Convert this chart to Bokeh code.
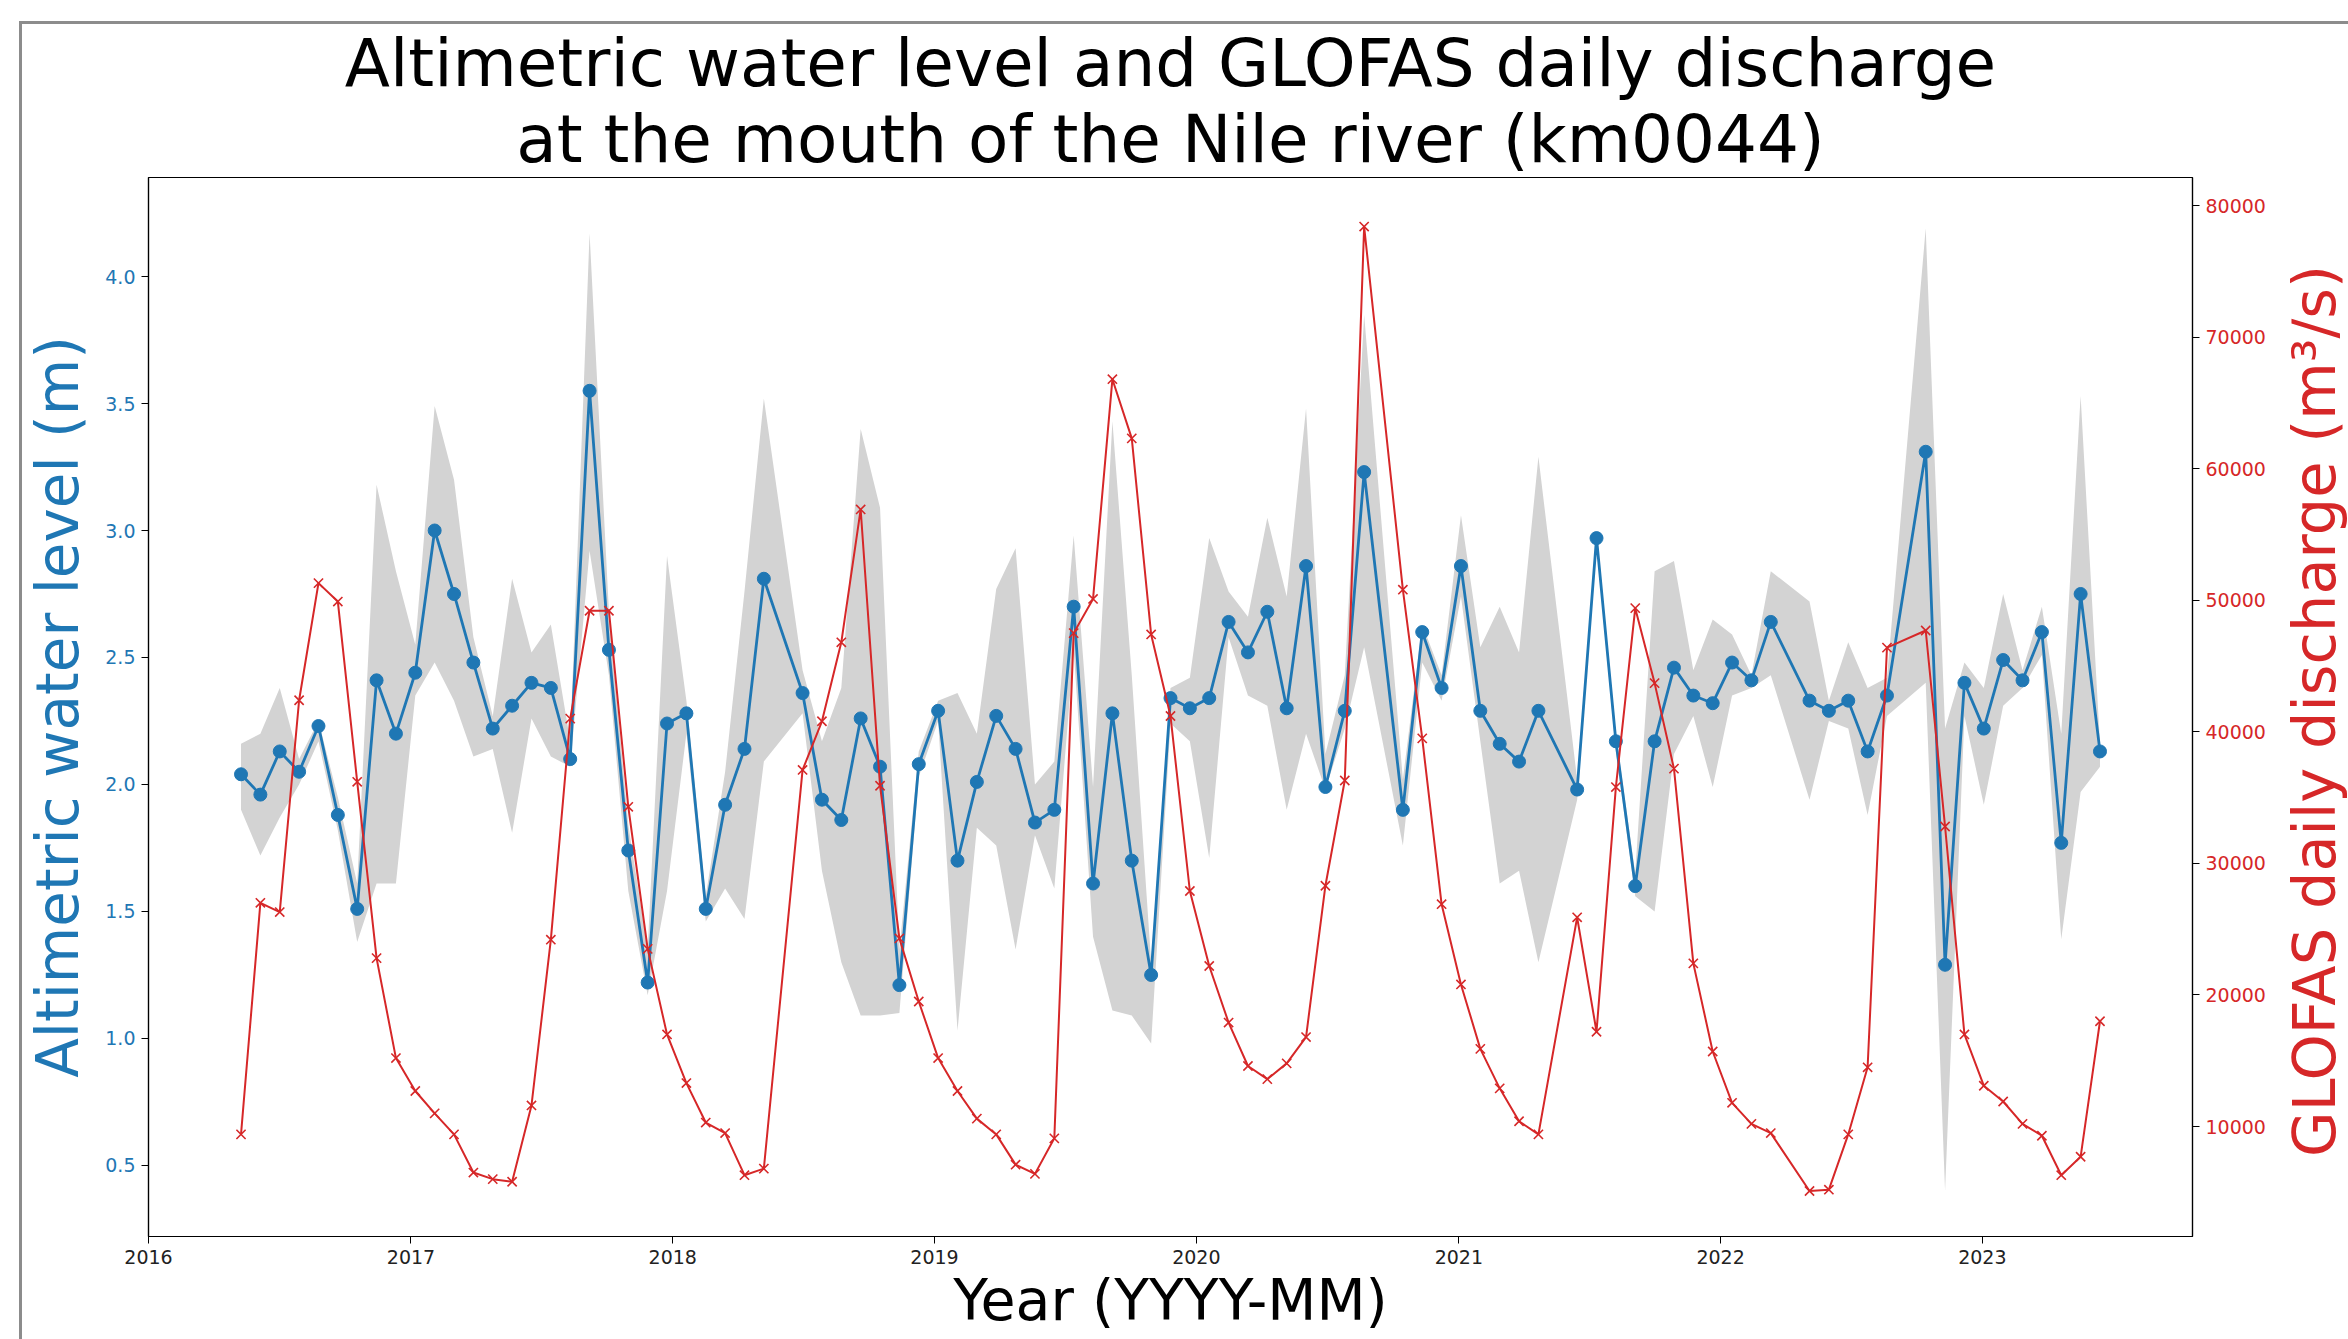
import pandas as pd
from bokeh.plotting import figure
from bokeh.layouts import row
from bokeh.models import (Range1d, LinearAxis, FixedTicker, Title, ColumnDataSource,
                          NumeralTickFormatter, DatetimeTickFormatter, Div)
from bokeh.embed import file_html
from bokeh.resources import INLINE

# ---------------- data ----------------
dates = [
    "2016-05-09", "2016-06-05", "2016-07-02", "2016-07-29", "2016-08-25", "2016-09-21",
    "2016-10-18", "2016-11-14", "2016-12-11", "2017-01-07", "2017-02-03", "2017-03-02",
    "2017-03-29", "2017-04-25", "2017-05-22", "2017-06-18", "2017-07-15", "2017-08-11",
    "2017-09-07", "2017-10-04", "2017-10-31", "2017-11-27", "2017-12-24", "2018-01-20",
    "2018-02-16", "2018-03-15", "2018-04-11", "2018-05-08", "2018-07-01", "2018-07-28",
    "2018-08-24", "2018-09-20", "2018-10-17", "2018-11-13", "2018-12-10", "2019-01-06",
    "2019-02-02", "2019-03-01", "2019-03-28", "2019-04-24", "2019-05-21", "2019-06-17",
    "2019-07-14", "2019-08-10", "2019-09-06", "2019-10-03", "2019-10-30", "2019-11-26",
    "2019-12-23", "2020-01-19", "2020-02-15", "2020-03-13", "2020-04-09", "2020-05-06",
    "2020-06-02", "2020-06-29", "2020-07-26", "2020-08-22", "2020-10-15", "2020-11-11",
    "2020-12-08", "2021-01-04", "2021-01-31", "2021-02-27", "2021-03-26", "2021-04-22",
    "2021-06-15", "2021-07-12", "2021-08-08", "2021-09-04", "2021-10-01", "2021-10-28",
    "2021-11-24", "2021-12-21", "2022-01-17", "2022-02-13", "2022-03-12", "2022-05-05",
    "2022-06-01", "2022-06-28", "2022-07-25", "2022-08-21", "2022-10-14", "2022-11-10",
    "2022-12-07", "2023-01-03", "2023-01-30", "2023-02-26", "2023-03-25", "2023-04-21",
    "2023-05-18", "2023-06-14",
]

water_level = [
    2.04, 1.96, 2.13, 2.05, 2.23, 1.88, 1.51, 2.41, 2.20, 2.44, 3.00, 2.75,
    2.48, 2.22, 2.31, 2.40, 2.38, 2.10, 3.55, 2.53, 1.74, 1.22, 2.24, 2.28,
    1.51, 1.92, 2.14, 2.81, 2.36, 1.94, 1.86, 2.26, 2.07, 1.21, 2.08, 2.29,
    1.70, 2.01, 2.27, 2.14, 1.85, 1.90, 2.70, 1.61, 2.28, 1.70, 1.25, 2.34,
    2.30, 2.34, 2.64, 2.52, 2.68, 2.30, 2.86, 1.99, 2.29, 3.23, 1.90, 2.60,
    2.38, 2.86, 2.29, 2.16, 2.09, 2.29, 1.98, 2.97, 2.17, 1.60, 2.17, 2.46,
    2.35, 2.32, 2.48, 2.41, 2.64, 2.33, 2.29, 2.33, 2.13, 2.35, 3.31, 1.29,
    2.40, 2.22, 2.49, 2.41, 2.60, 1.77, 2.75, 2.13,
]

level_upper = [
    2.16, 2.20, 2.38, 2.10, 2.25, 1.95, 1.61, 3.18, 2.84, 2.55, 3.49, 3.20,
    2.58, 2.27, 2.81, 2.52, 2.63, 2.17, 4.17, 2.68, 1.84, 1.35, 2.90, 2.33,
    1.56, 2.05, 2.76, 3.52, 2.45, 2.17, 2.38, 3.40, 3.09, 1.35, 2.13, 2.33,
    2.36, 2.20, 2.77, 2.93, 2.00, 2.09, 2.98, 1.99, 3.43, 2.43, 1.30, 2.38,
    2.42, 2.97, 2.76, 2.66, 3.05, 2.74, 3.48, 2.12, 2.43, 3.85, 2.02, 2.63,
    2.43, 3.06, 2.54, 2.70, 2.52, 3.29, 2.02, 3.00, 2.20, 1.65, 2.84, 2.88,
    2.45, 2.65, 2.59, 2.43, 2.84, 2.72, 2.33, 2.56, 2.38, 2.42, 4.19, 2.22,
    2.48, 2.38, 2.75, 2.45, 2.70, 2.20, 3.53, 2.16,
]

level_lower = [
    1.90, 1.72, 1.87, 2.00, 2.17, 1.82, 1.38, 1.61, 1.61, 2.35, 2.48, 2.33,
    2.11, 2.14, 1.81, 2.26, 2.11, 2.07, 2.92, 2.43, 1.58, 1.17, 1.58, 2.20,
    1.46, 1.59, 1.47, 2.09, 2.28, 1.66, 1.30, 1.09, 1.09, 1.10, 2.03, 2.25,
    1.03, 1.83, 1.76, 1.35, 1.80, 1.59, 2.53, 1.40, 1.11, 1.09, 0.98, 2.24,
    2.17, 1.71, 2.58, 2.35, 2.31, 1.90, 2.20, 1.98, 2.22, 2.54, 1.76, 2.48,
    2.33, 2.74, 2.17, 1.61, 1.66, 1.30, 1.94, 2.94, 2.13, 1.56, 1.50, 2.12,
    2.27, 1.99, 2.35, 2.38, 2.43, 1.94, 2.25, 2.22, 1.88, 2.27, 2.40, 0.40,
    2.27, 1.92, 2.31, 2.38, 2.51, 1.39, 1.97, 2.07,
]

discharge = [
    9400, 27000, 26300, 42400, 51300, 49900, 36200, 22800, 15200, 12700, 11000, 9400,
    6500, 6000, 5800, 11600, 24200, 41000, 49200, 49200, 34300, 23500, 17000, 13300,
    10300, 9500, 6300, 6800, 37100, 40800, 46800, 56900, 35900, 24300, 19500, 15200,
    12700, 10600, 9400, 7100, 6400, 9100, 47500, 50100, 66800, 62300, 47400, 41200,
    27900, 22200, 17900, 14600, 13600, 14800, 16800, 28300, 36300, 78400, 50800, 39500,
    26900, 20800, 15900, 12900, 10400, 9400, 25900, 17200, 35800, 49400, 43700, 37200,
    22400, 15700, 11800, 10200, 9500, 5100, 5200, 9400, 14500, 46400, 47700, 32800,
    17000, 13100, 11900, 10200, 9300, 6300, 7700, 18000,
]

year_ticks = [2016, 2017, 2018, 2019, 2020, 2021, 2022, 2023]
level_ticks = [0.5, 1.0, 1.5, 2.0, 2.5, 3.0, 3.5, 4.0]
discharge_ticks = [10000, 20000, 30000, 40000, 50000, 60000, 70000, 80000]

title_line1 = "Altimetric water level and GLOFAS daily discharge"
title_line2 = "at the mouth of the Nile river (km0044)"
x_label = "Year (YYYY-MM)"
left_label = "Altimetric water level (m)"
right_label = "GLOFAS daily discharge (m³/s)"

# ---------------- styles / layout ----------------
BLUE = "#1f77b4"
RED = "#d62728"
BAND = "#d3d3d3"
FONT = "DejaVu Sans"
EDGE = "#8c8c8c"

W, H = 2348, 1339
LABEL_W = 80                 # strip on the right holding the rotated right-axis label
PW = W - LABEL_W             # width of the figure itself
ML, MR, MT, MB = 148, 75, 177, 103

X_START, X_END = pd.Timestamp("2016-01-01"), pd.Timestamp("2023-10-21")
Y_LO, Y_HI = 0.22, 4.39
Q_LO, Q_HI = 1640, 82130

src = ColumnDataSource(dict(
    x=pd.to_datetime(dates),
    level=water_level,
    upper=level_upper,
    lower=level_lower,
    q=discharge,
))

p = figure(
    width=PW, height=H,
    x_axis_type="datetime",
    x_range=Range1d(X_START, X_END),
    y_range=Range1d(Y_LO, Y_HI),
    output_backend="svg", toolbar_location=None,
    min_border_left=ML, min_border_right=MR, min_border_top=MT, min_border_bottom=MB,
)
p.extra_y_ranges = {"q": Range1d(Q_LO, Q_HI)}

p.background_fill_color = "white"
p.border_fill_color = None
p.outline_line_color = "black"
p.outline_line_width = 1.2
p.grid.visible = False

# titles: the figure's own title is the outer (top) line, the added one sits nearer the frame
p.title.text = title_line1
p.title.align = "center"
p.title.text_font = FONT
p.title.text_font_size = "66px"
p.title.text_font_style = "normal"
p.title.text_color = "black"
try:
    p.title.standoff = -7     # bring the two title lines a little closer together
except Exception:
    p.title.standoff = 0
t2 = Title(text=title_line2, align="center", text_font=FONT, text_font_size="66px",
           text_font_style="normal", text_color="black", standoff=0)
p.add_layout(t2, "above")

# glyphs
p.varea(x="x", y1="lower", y2="upper", source=src, fill_color=BAND, fill_alpha=1.0)
p.line(x="x", y="level", source=src, line_color=BLUE, line_width=2.8)
p.scatter(x="x", y="level", source=src, marker="circle", size=13,
          fill_color=BLUE, line_color=BLUE)
p.line(x="x", y="q", source=src, y_range_name="q", line_color=RED, line_width=2)
p.scatter(x="x", y="q", source=src, y_range_name="q", marker="x", size=13,
          line_color=RED, line_width=1.6)

# x axis
xa = p.xaxis[0]
xa.ticker = FixedTicker(ticks=[pd.Timestamp(f"{y}-01-01").value // 10**6 for y in year_ticks])
xa.formatter = DatetimeTickFormatter(years="%Y", months="%Y", days="%Y", hours="%Y")
xa.axis_label = x_label
xa.axis_label_text_font = FONT
xa.axis_label_text_font_size = "57px"
xa.axis_label_text_font_style = "normal"
xa.axis_label_text_color = "black"
xa.axis_label_standoff = 0
xa.major_label_text_font = FONT
xa.major_label_text_font_size = "19px"
xa.major_label_text_color = "#222222"
xa.major_label_standoff = 6

# left axis
ya = p.yaxis[0]
ya.ticker = FixedTicker(ticks=level_ticks)
ya.formatter = NumeralTickFormatter(format="0.0")
ya.axis_label = left_label
ya.axis_label_text_font = FONT
ya.axis_label_text_font_size = "58px"
ya.axis_label_text_font_style = "normal"
ya.axis_label_text_color = BLUE
ya.axis_label_standoff = 10
ya.major_label_text_font = FONT
ya.major_label_text_font_size = "19px"
ya.major_label_text_color = BLUE
ya.major_label_standoff = 6

# right axis (ticks only; its label is the rotated text in the strip beside the figure)
ra = LinearAxis(y_range_name="q", ticker=FixedTicker(ticks=discharge_ticks),
                formatter=NumeralTickFormatter(format="0"))
ra.major_label_text_font = FONT
ra.major_label_text_font_size = "19px"
ra.major_label_text_color = RED
ra.major_label_standoff = 6
p.add_layout(ra, "right")

for ax in (xa, ya, ra):
    ax.minor_tick_line_color = None
    ax.major_tick_in = 0
    ax.major_tick_out = 7
    ax.major_tick_line_color = "black"
    ax.axis_line_color = "black"
    ax.axis_line_width = 1.2

# right-axis label, reading bottom-to-top like the reference
label_html = (
    f'<div style="position:relative;width:{LABEL_W}px;height:{H}px;">'
    f'<div style="position:absolute;left:41px;top:{(MT + H - MB) // 2}px;'
    f'transform:translate(-50%,-50%) rotate(-90deg);white-space:nowrap;'
    f"font-family:'{FONT}';font-size:59px;line-height:1;color:{RED};\">"
    f'{right_label}</div></div>'
)
right_div = Div(text=label_html, width=LABEL_W, height=H)

layout = row(
    p, right_div,
    styles={
        "background": (
            f"linear-gradient({EDGE},{EDGE}) 20px 21px / 100% 3px no-repeat, "
            f"linear-gradient({EDGE},{EDGE}) 19px 21px / 3px 100% no-repeat, white"
        ),
    },
)

open("out.html", "w").write(file_html(layout, INLINE))
